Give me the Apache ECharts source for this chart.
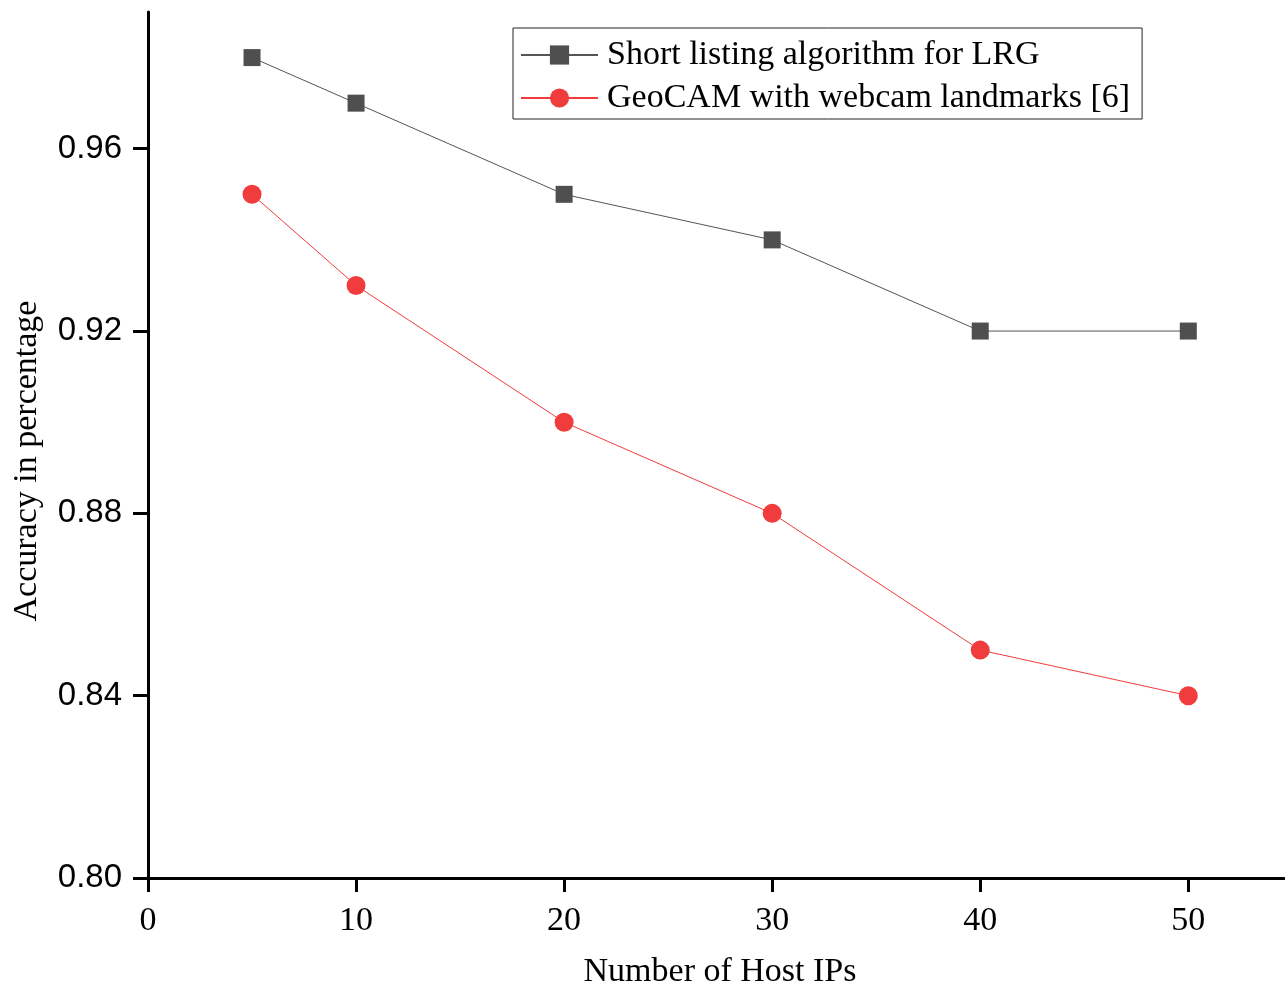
<!DOCTYPE html>
<html>
<head>
<meta charset="utf-8">
<script src="https://cdn.jsdelivr.net/npm/echarts@6/dist/echarts.min.js"></script>
<style>html,body{margin:0;padding:0;background:#fff}#c{width:1285px;height:983px}</style>
</head>
<body>
<div id="c"></div>
<script>
const hostIPs = [5, 10, 20, 30, 40, 50];
const shortListing = [0.98, 0.97, 0.95, 0.94, 0.92, 0.92];
const geoCAM = [0.95, 0.93, 0.90, 0.88, 0.85, 0.84];
const xTicks = [0, 10, 20, 30, 40, 50];
const yTicks = [0.80, 0.84, 0.88, 0.92, 0.96];
const seriesNames = ['Short listing algorithm for LRG', 'GeoCAM with webcam landmarks [6]'];

const serif = 'Liberation Serif';
const sans = 'Liberation Sans';
const chart = echarts.init(document.getElementById('c'), null, {renderer: 'canvas'});
chart.setOption({
  animation: false,
  backgroundColor: '#fff',
  grid: {left: 148, right: 1, top: 12, bottom: 105, containLabel: false, outerBoundsMode: 'none'},
  legend: {
    orient: 'vertical', left: 513, top: 28,
    padding: [10, 12, 4, 7],
    borderColor: '#222', borderWidth: 1,
    itemWidth: 77, itemHeight: 24, itemGap: 9,
    textStyle: {fontFamily: serif, fontSize: 34, color: '#000', lineHeight: 34, padding: [0, 0, 0, 4]},
    data: seriesNames
  },
  xAxis: {
    type: 'value', min: 0, max: 54.6,
    name: 'Number of Host IPs', nameLocation: 'middle', nameGap: 77,
    nameTextStyle: {fontFamily: serif, fontSize: 34, color: '#000', padding: [0, 0, 0, 8]},
    axisLine: {show: true, onZero: false, lineStyle: {color: '#000', width: 3}},
    axisTick: {show: true, inside: false, length: 14, lineStyle: {color: '#000', width: 3}, customValues: xTicks},
    axisLabel: {fontFamily: serif, fontSize: 34, color: '#000', margin: 26, customValues: xTicks},
    splitLine: {show: false}
  },
  yAxis: {
    type: 'value', min: 0.80, max: 0.99,
    name: 'Accuracy in percentage', nameLocation: 'middle', nameGap: 104, nameRotate: 90,
    nameTextStyle: {fontFamily: serif, fontSize: 34, color: '#000', padding: [0, 32, 0, 0]},
    axisLine: {show: true, onZero: false, lineStyle: {color: '#000', width: 3}},
    axisTick: {show: true, inside: false, length: 15, lineStyle: {color: '#000', width: 3}, customValues: yTicks},
    axisLabel: {fontFamily: sans, fontSize: 33, color: '#000', margin: 26, customValues: yTicks,
      formatter: v => v.toFixed(2)},
    splitLine: {show: false}
  },
  series: [
    {
      name: seriesNames[0], type: 'line',
      data: hostIPs.map((x, i) => [x, shortListing[i]]),
      symbol: 'rect', symbolSize: 17,
      itemStyle: {color: '#4f4f4f'},
      lineStyle: {color: '#555', width: 1}
    },
    {
      name: seriesNames[1], type: 'line',
      data: hostIPs.map((x, i) => [x, geoCAM[i]]),
      symbol: 'circle', symbolSize: 19,
      itemStyle: {color: '#f03c3c'},
      lineStyle: {color: '#f03c3c', width: 1}
    }
  ]
});
</script>
</body>
</html>
